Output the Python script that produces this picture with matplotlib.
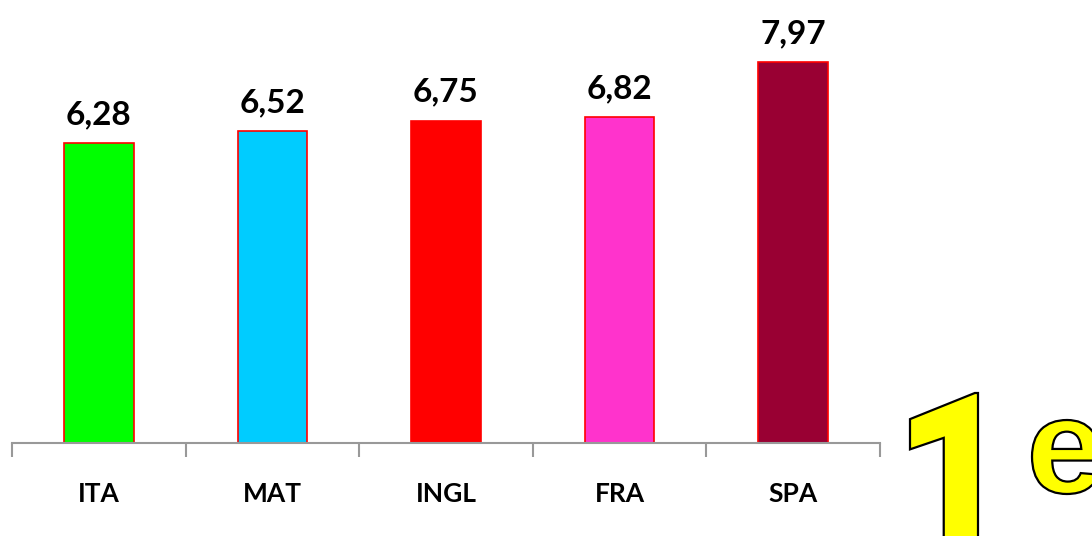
import matplotlib
matplotlib.use("Agg")
import matplotlib.pyplot as plt
from matplotlib.textpath import TextPath
from matplotlib.patches import PathPatch
from matplotlib.font_manager import FontProperties
from matplotlib.transforms import Affine2D, IdentityTransform

# data
subjects = ["ITA", "MAT", "INGL", "FRA", "SPA"]
averages = [6.28, 6.52, 6.75, 6.82, 7.97]
labels = ["6,28", "6,52", "6,75", "6,82", "7,97"]
bar_colors = ["#00FF00", "#00CCFF", "#FF0000", "#FF33CC", "#990033"]

W, H = 1092, 536
fig = plt.figure(figsize=(W / 100, H / 100), dpi=100)
ax = fig.add_axes([12 / W, 93 / H, 868 / W, 430 / H])

x = list(range(len(subjects)))
bars = ax.bar(x, averages, width=0.40, color=bar_colors, edgecolor="#FF0000", linewidth=1.2)

for b, lab in zip(bars, labels):
    ax.annotate(lab, (b.get_x() + b.get_width() / 2, b.get_height()),
                xytext=(0, 10), textcoords="offset points", ha="center", va="bottom",
                fontsize=24, fontweight="bold", family="Lato")

ax.set_xlim(-0.5, len(subjects) - 0.5)
ax.set_ylim(0, 9)

# tick marks at category boundaries, labels at centers
ax.set_xticks([i - 0.5 for i in range(len(subjects) + 1)])
ax.set_xticklabels([])
ax.set_xticks(x, minor=True)
ax.set_xticklabels(subjects, minor=True, fontsize=19, fontweight="bold", family="Lato")
ax.tick_params(axis="x", which="major", length=10, width=1.5, color="#999999", direction="out")
ax.tick_params(axis="x", which="minor", length=0, pad=28)
ax.set_yticks([])

for s in ["top", "right", "left"]:
    ax.spines[s].set_visible(False)
ax.spines["bottom"].set_color("#999999")
ax.spines["bottom"].set_linewidth(1.5)


def glyph(ch, font, left, top, right, bottom):
    # draw a character stretched into a pixel box (top-left origin)
    tp = TextPath((0, 0), ch, size=100, prop=font)
    ext = tp.get_extents()
    sx = (right - left) / ext.width
    sy = (bottom - top) / ext.height
    tr = Affine2D().translate(-ext.x0, -ext.y0).scale(sx, sy).translate(left, H - bottom)
    patch = PathPatch(tr.transform_path(tp), facecolor="#FFFF00", edgecolor="black",
                      linewidth=1.6, transform=IdentityTransform())
    fig.add_artist(patch)


# big "1e" on the right
glyph("1", FontProperties(family="Roboto", weight="black"), 910, 393, 978, 565)
glyph("e", FontProperties(family="Liberation Sans", weight="bold"), 1032, 420, 1100, 494)

fig.savefig("out.png", dpi=100)
